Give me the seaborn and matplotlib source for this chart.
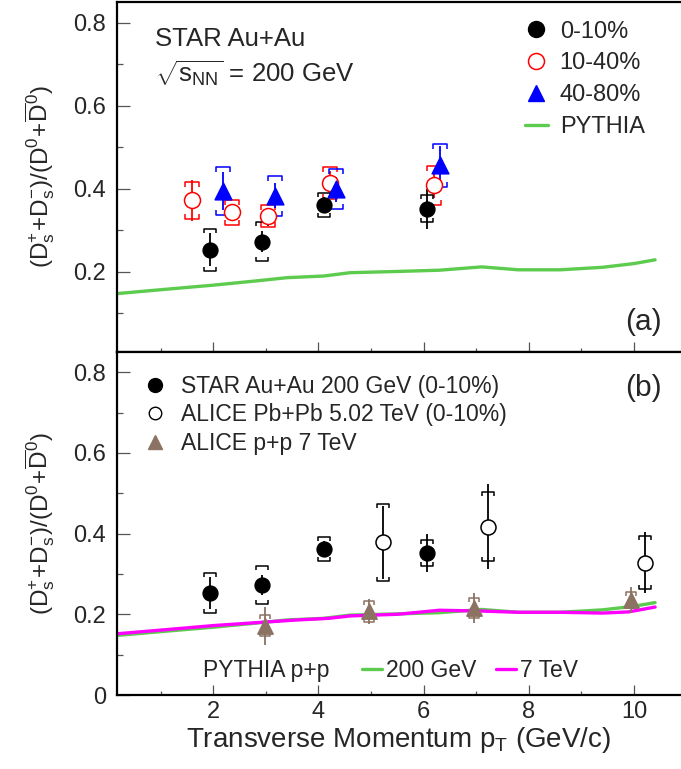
import numpy as np
import matplotlib
matplotlib.use('Agg')
import matplotlib.pyplot as plt
import seaborn as sns
from matplotlib.path import Path
from matplotlib.lines import Line2D
from matplotlib.ticker import MultipleLocator

# ---------------- data ----------------
# panel (a): STAR Au+Au 200 GeV, three centralities
c010_pt = [1.94, 2.92, 4.10, 6.06]
c010_val = [0.253, 0.273, 0.361, 0.352]
c010_stat = [0.040, 0.025, 0.020, 0.048]
c010_sys = [0.050, 0.047, 0.030, 0.033]

c1040_pt = [1.60, 2.35, 3.04, 4.22, 6.19]
c1040_val = [0.372, 0.344, 0.335, 0.414, 0.409]
c1040_stat = [0.050, 0.015, 0.020, 0.030, 0.030]
c1040_sys = [0.045, 0.030, 0.027, 0.038, 0.047]

c4080_pt = [2.18, 3.18, 4.34, 6.31]
c4080_val = [0.395, 0.383, 0.399, 0.457]
c4080_stat = [0.045, 0.030, 0.030, 0.045]
c4080_sys = [0.058, 0.048, 0.048, 0.052]

# PYTHIA p+p 200 GeV
py200_pt = [0.2, 1.0, 2.0, 2.8, 3.4, 4.1, 4.6, 5.5, 6.3, 7.1, 7.8, 8.6, 9.4, 10.0, 10.4]
py200_val = [0.148, 0.157, 0.168, 0.178, 0.186, 0.190, 0.198, 0.201, 0.204, 0.212,
             0.205, 0.205, 0.211, 0.220, 0.229]
# PYTHIA p+p 7 TeV
py7_pt = [0.2, 1.2, 2.0, 2.9, 3.6, 4.2, 4.6, 5.5, 6.3, 7.1, 7.8, 8.6, 9.4, 9.9, 10.4]
py7_val = [0.152, 0.163, 0.172, 0.180, 0.186, 0.190, 0.196, 0.200, 0.210, 0.208,
           0.205, 0.205, 0.203, 0.206, 0.218]

# panel (b): ALICE
pbpb_pt = [5.23, 7.22, 10.20]
pbpb_val = [0.378, 0.417, 0.328]
pbpb_stat = [0.090, 0.105, 0.075]
pbpb_sys = [0.095, 0.085, 0.065]

pp_pt = [2.98, 4.97, 6.96, 9.95]
pp_val = [0.172, 0.207, 0.215, 0.235]
pp_stat = [0.047, 0.032, 0.037, 0.032]
pp_sys = [0.027, 0.025, 0.025, 0.020]

legend_a = ['0-10%', '10-40%', '40-80%', 'PYTHIA']
legend_b = ['STAR Au+Au 200 GeV (0-10%)', 'ALICE Pb+Pb 5.02 TeV (0-10%)', 'ALICE p+p 7 TeV']
legend_py = ['200 GeV', '7 TeV']

# ---------------- style ----------------
sns.set_theme(style='ticks')
plt.rcParams['font.family'] = ['Liberation Sans', 'DejaVu Sans']
plt.rcParams['mathtext.fontset'] = 'custom'
plt.rcParams['mathtext.rm'] = 'Liberation Sans'
plt.rcParams['mathtext.it'] = 'Liberation Sans:italic'
plt.rcParams['mathtext.bf'] = 'Liberation Sans:bold'
plt.rcParams['mathtext.sf'] = 'Liberation Sans'

GREEN = '#5CCB4E'
MAGENTA = '#FF00FF'
BROWN = '#8B7262'
RED = '#FF0000'
BLUE = '#0000FF'

top_br = Path([(-1, -0.7), (-1, 0), (1, 0), (1, -0.7)],
              [Path.MOVETO, Path.LINETO, Path.LINETO, Path.LINETO])
bot_br = Path([(-1, 0.7), (-1, 0), (1, 0), (1, 0.7)],
              [Path.MOVETO, Path.LINETO, Path.LINETO, Path.LINETO])


def draw_points(ax, x, y, stat, sys, color, marker, ms, face, bw):
    x = np.asarray(x); y = np.asarray(y)
    stat = np.asarray(stat); sys = np.asarray(sys)
    ax.errorbar(x, y, yerr=stat, fmt='none', ecolor=color, elinewidth=1.3,
                capsize=0, zorder=3)
    ax.plot(x, y + sys, ls='none', marker=top_br, ms=bw, mfc='none', mec=color,
            mew=1.1, zorder=3)
    ax.plot(x, y - sys, ls='none', marker=bot_br, ms=bw, mfc='none', mec=color,
            mew=1.1, zorder=3)
    sns.scatterplot(x=x, y=y, ax=ax, marker=marker, s=ms ** 2, color=face,
                    edgecolor=color, linewidth=1.1, zorder=5, legend=False)


W, H = 681, 769
fig = plt.figure(figsize=(W / 100, H / 100), dpi=100)
left = 117 / W
width = 1 - left
ax_a = fig.add_axes([left, 1 - 352 / H, width, 350 / H])
ax_b = fig.add_axes([left, 1 - 695 / H, width, 343 / H])

xlim = (0.17, 0.17 + 564 / 52.6)

for ax in (ax_a, ax_b):
    ax.set_xlim(*xlim)
    ax.xaxis.set_major_locator(MultipleLocator(2))
    ax.xaxis.set_minor_locator(MultipleLocator(1))
    ax.yaxis.set_major_locator(MultipleLocator(0.2))
    ax.yaxis.set_minor_locator(MultipleLocator(0.1))
    ax.tick_params(axis='y', which='major', direction='in', length=9.4, width=0.9,
                   color='#555555', labelsize=17, pad=8, right=False)
    ax.tick_params(axis='y', which='minor', direction='in', length=4.3, width=0.9,
                   color='#555555', right=False)
    ax.tick_params(axis='x', which='major', direction='in', length=7.2, width=0.9,
                   color='#555555', labelsize=17, pad=4, top=False)
    ax.tick_params(axis='x', which='minor', direction='in', length=3.0, width=0.9,
                   color='#555555', top=False)
    ax.spines['right'].set_visible(False)
    for s in ('left', 'bottom', 'top'):
        ax.spines[s].set_linewidth(1.6)
        ax.spines[s].set_color('black')
    ax.set_xlabel('')

ax_a.set_ylim(0.007, 0.85)
ax_b.set_ylim(0.0, 0.85)
ax_a.tick_params(axis='x', labelbottom=False)
ax_a.set_yticks([0.2, 0.4, 0.6, 0.8])
ax_a.set_yticklabels(['0.2', '0.4', '0.6', '0.8'])
ax_b.set_yticks([0, 0.2, 0.4, 0.6, 0.8])
ax_b.set_yticklabels(['0', '0.2', '0.4', '0.6', '0.8'])
ax_b.set_xticks([2, 4, 6, 8, 10])
ax_b.set_xticklabels(['2', '4', '6', '8', '10'])

# ---------------- panel (a) ----------------
sns.lineplot(x=py200_pt, y=py200_val, ax=ax_a, color=GREEN, linewidth=2.4,
             estimator=None, sort=False, legend=False, zorder=2)
draw_points(ax_a, c1040_pt, c1040_val, c1040_stat, c1040_sys, RED, 'o', 11.5, 'white', 10)
draw_points(ax_a, c4080_pt, c4080_val, c4080_stat, c4080_sys, BLUE, '^', 12, BLUE, 9.5)
draw_points(ax_a, c010_pt, c010_val, c010_stat, c010_sys, 'black', 'o', 10.6, 'black', 8.4)

h_a = [Line2D([], [], ls='none', marker='o', ms=11.5, mfc='black', mec='black'),
       Line2D([], [], ls='none', marker='o', ms=11.5, mfc='white', mec=RED, mew=1.1),
       Line2D([], [], ls='none', marker='^', ms=11.5, mfc=BLUE, mec=BLUE),
       Line2D([], [], color=GREEN, lw=2.4)]
ax_a.legend(h_a, legend_a, loc='upper left', bbox_to_anchor=(0.7234, 0.947),
            frameon=False, fontsize=17, handlelength=0.97, handletextpad=0.5,
            labelspacing=0.42, borderpad=0, borderaxespad=0)

ax_a.text(0.067, 0.874, 'STAR Au+Au', transform=ax_a.transAxes, fontsize=18.5,
          va='baseline', ha='left')
ax_a.text(0.067, 0.771, r'$\sqrt{\mathrm{s}_{\mathrm{NN}}}$ = 200 GeV',
          transform=ax_a.transAxes, fontsize=18.5, va='baseline', ha='left')
ax_a.text(0.966, 0.063, '(a)', transform=ax_a.transAxes, fontsize=21.5,
          va='baseline', ha='right')

# ---------------- panel (b) ----------------
sns.lineplot(x=py200_pt, y=py200_val, ax=ax_b, color=GREEN, linewidth=2.4,
             estimator=None, sort=False, legend=False, zorder=2)
sns.lineplot(x=py7_pt, y=py7_val, ax=ax_b, color=MAGENTA, linewidth=2.4,
             estimator=None, sort=False, legend=False, zorder=2)
draw_points(ax_b, pp_pt, pp_val, pp_stat, pp_sys, BROWN, '^', 11, BROWN, 7.5)
draw_points(ax_b, pbpb_pt, pbpb_val, pbpb_stat, pbpb_sys, 'black', 'o', 10.8, 'white', 9.2)
draw_points(ax_b, c010_pt, c010_val, c010_stat, c010_sys, 'black', 'o', 10.6, 'black', 8.4)

h_b = [Line2D([], [], ls='none', marker='o', ms=10, mfc='black', mec='black'),
       Line2D([], [], ls='none', marker='o', ms=9, mfc='white', mec='black', mew=1.0),
       Line2D([], [], ls='none', marker='^', ms=9.5, mfc=BROWN, mec=BROWN)]
leg_b = ax_b.legend(h_b, legend_b, loc='upper left', bbox_to_anchor=(0.047, 0.933),
                    frameon=False, fontsize=16.5, handlelength=1.0, handletextpad=0.63,
                    labelspacing=0.24, borderpad=0, borderaxespad=0)
ax_b.add_artist(leg_b)

h_py = [Line2D([], [], color=GREEN, lw=2.4), Line2D([], [], color=MAGENTA, lw=2.4)]
ax_b.legend(h_py, legend_py, loc='center left', bbox_to_anchor=(0.434, 0.07), ncol=2,
            frameon=False, fontsize=16.5, handlelength=0.87, handletextpad=0.17,
            columnspacing=0.87, borderpad=0, borderaxespad=0)
ax_b.text(0.152, 0.07, 'PYTHIA p+p', transform=ax_b.transAxes, fontsize=16.5,
          va='center', ha='left')
ax_b.text(0.966, 0.872, '(b)', transform=ax_b.transAxes, fontsize=21.5,
          va='baseline', ha='right')

# ---------------- labels ----------------
ylab = (r'$(\mathrm{D}_{\mathrm{s}}^{+}\!+\!\mathrm{D}_{\mathrm{s}}^{-})/'
        r'(\mathrm{D}^{0}\!+\!\overline{\mathrm{D}}^{0})$')
for ax in (ax_a, ax_b):
    ax.set_ylabel(ylab, fontsize=17.5)
    ax.yaxis.set_label_coords(-0.1365, 0.5)
    ax.yaxis.label.set_verticalalignment('center')

ax_b.set_xlabel(r'Transverse Momentum p$_\mathrm{T}$ (GeV/c)', fontsize=20, labelpad=2)

fig.savefig('out.png', dpi=100)
